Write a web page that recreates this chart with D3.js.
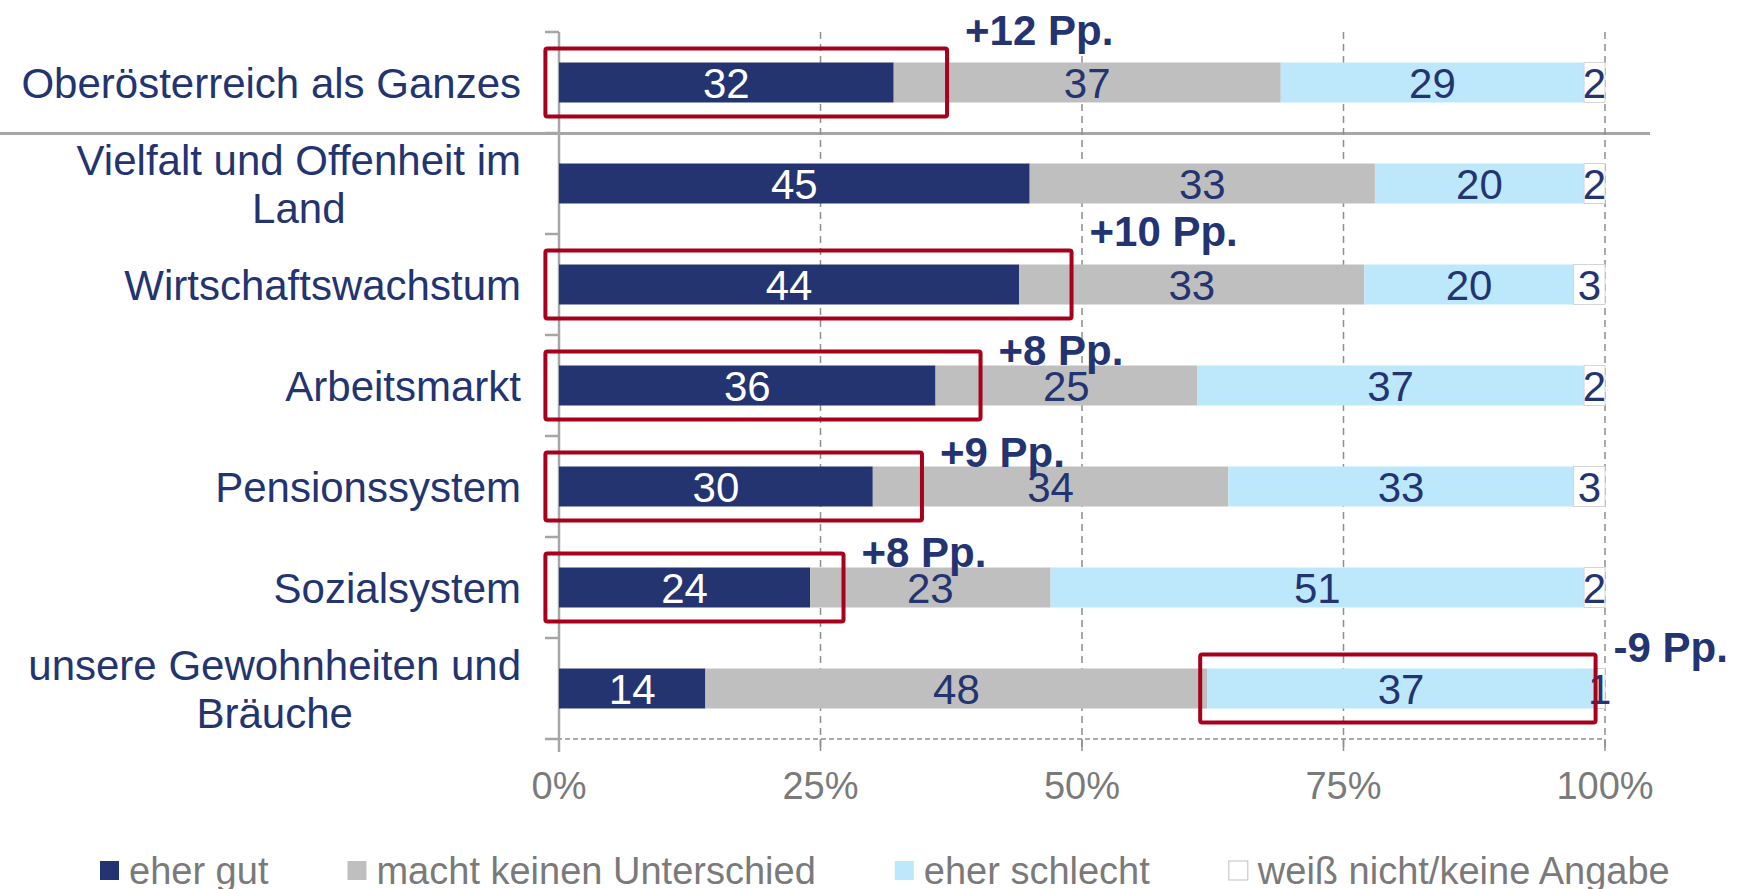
<!DOCTYPE html>
<html>
<head>
<meta charset="utf-8">
<script src="https://cdn.jsdelivr.net/npm/d3@7"></script>
<style>
  html, body { margin: 0; padding: 0; background: #ffffff; }
  svg { display: block; font-family: "Liberation Sans", Arial, Helvetica, sans-serif; }
</style>
</head>
<body>
<svg id="chart" width="1740" height="889"></svg>
<script>
// ---------------- DATA ----------------
const categories = [
  "Oberösterreich als Ganzes",
  "Vielfalt und Offenheit im\nLand",
  "Wirtschaftswachstum",
  "Arbeitsmarkt",
  "Pensionssystem",
  "Sozialsystem",
  "unsere Gewohnheiten und\nBräuche"
];
const seriesNames = ["eher gut", "macht keinen Unterschied", "eher schlecht", "weiß nicht/keine Angabe"];
const eherGut        = [32, 45, 44, 36, 30, 24, 14];
const keinUnterschied = [37, 33, 33, 25, 34, 23, 48];
const eherSchlecht   = [29, 20, 20, 37, 33, 51, 37];
const weissNicht     = [2, 2, 3, 2, 3, 2, 1];
const tickValues = [0, 25, 50, 75, 100];
const tickLabels = ["0%", "25%", "50%", "75%", "100%"];

// annotation boxes (row index, label, range in % of x axis)
const annotRows   = [0, 2, 3, 4, 5, 6];
const annotLabels = ["+12 Pp.", "+10 Pp.", "+8 Pp.", "+9 Pp.", "+8 Pp.", "-9 Pp."];
const annotFrom   = [-1.3, -1.3, -1.3, -1.3, -1.3, 61.3];
const annotTo     = [37.1, 49.0, 40.3, 34.7, 27.2, 99.1];

// ---------------- STYLE / LAYOUT ----------------
const colors = ["#233471", "#bfbfbf", "#bde8fb", "#ffffff"];
const navy = "#233471";
const red = "#a6001c";
const axisGray = "#a6a6a6";
const gridGray = "#8f8f8f";
const textGray = "#7a7a7a";
const annotDy = [-53, -54, -36, -35, -36, -42]; // label offset from bar centre

const svg = d3.select("#chart");
const x = d3.scaleLinear().domain([0, 100]).range([559, 1605]);
const y = d3.scaleBand().domain(categories).range([32, 739]).padding(0);
const barH = y.bandwidth() * 0.396;
const yc = c => y(c) + y.bandwidth() / 2;

const series = [eherGut, keinUnterschied, eherSchlecht, weissNicht];
const rows = categories.map((c, i) => {
  let acc = 0;
  return series.map((s, k) => {
    const seg = { cat: c, k, v: s[i], x0: acc, x1: acc + s[i] };
    acc += s[i];
    return seg;
  });
});

// separator line under the first row
svg.append("line")
  .attr("x1", 0).attr("x2", 1650)
  .attr("y1", y(categories[1]) + 0.5).attr("y2", y(categories[1]) + 0.5)
  .attr("stroke", axisGray).attr("stroke-width", 3);

// vertical gridlines (dashed)
svg.append("g").selectAll("line")
  .data(tickValues.filter(t => t > 0))
  .join("line")
  .attr("x1", d => x(d)).attr("x2", d => x(d))
  .attr("y1", 32).attr("y2", 750)
  .attr("stroke", gridGray).attr("stroke-width", 1.5)
  .attr("stroke-dasharray", "7,5");

// bottom axis (dashed) with ticks
svg.append("line")
  .attr("x1", 549).attr("x2", x(100))
  .attr("y1", 739).attr("y2", 739)
  .attr("stroke", gridGray).attr("stroke-width", 1.5)
  .attr("stroke-dasharray", "5,3");
svg.append("g").selectAll("line")
  .data(tickValues)
  .join("line")
  .attr("x1", d => x(d)).attr("x2", d => x(d))
  .attr("y1", 739).attr("y2", 751)
  .attr("stroke", gridGray).attr("stroke-width", 1.5);

svg.append("g").selectAll("text")
  .data(tickValues)
  .join("text")
  .attr("x", d => x(d)).attr("y", 799)
  .attr("text-anchor", "middle")
  .attr("font-size", 38)
  .attr("fill", textGray)
  .text((d, i) => tickLabels[i]);

// category axis
svg.append("line")
  .attr("x1", x(0)).attr("x2", x(0))
  .attr("y1", 32).attr("y2", 752)
  .attr("stroke", axisGray).attr("stroke-width", 2.5);
const boundaries = categories.map(c => y(c)).concat([739]);
svg.append("g").selectAll("line")
  .data(boundaries)
  .join("line")
  .attr("x1", x(0) - 14).attr("x2", x(0))
  .attr("y1", d => d).attr("y2", d => d)
  .attr("stroke", axisGray).attr("stroke-width", 2.5);

// bars
const barG = svg.append("g");
rows.forEach(r => {
  barG.selectAll(null)
    .data(r)
    .join("rect")
    .attr("x", d => x(d.x0))
    .attr("width", d => x(d.x1) - x(d.x0))
    .attr("y", d => yc(d.cat) - barH / 2)
    .attr("height", barH)
    .attr("fill", d => colors[d.k])
    .attr("stroke", d => d.k === 3 ? "#d4d4d4" : "none")
    .attr("stroke-width", 1);
});

// bar labels
rows.forEach(r => {
  barG.selectAll(null)
    .data(r)
    .join("text")
    .attr("x", d => x((d.x0 + d.x1) / 2))
    .attr("y", d => yc(d.cat) + 15)
    .attr("text-anchor", "middle")
    .attr("font-size", 42)
    .attr("fill", d => d.k === 0 ? "#ffffff" : navy)
    .text(d => d.v);
});

// category labels
const labelRight = 521;
const catG = svg.append("g");
categories.forEach(c => {
  const lines = c.split("\n");
  const t = catG.append("text")
    .attr("font-size", 42)
    .attr("fill", navy);
  if (lines.length === 1) {
    t.attr("x", labelRight).attr("y", yc(c) + 15)
     .attr("text-anchor", "end").text(c);
  } else {
    const lh = 48;
    const y0 = yc(c) - (lines.length - 1) * lh / 2 + 15;
    const tspans = lines.map((l, i) => t.append("tspan")
      .attr("y", y0 + i * lh).text(l));
    const maxW = d3.max(tspans, s => s.node().getComputedTextLength());
    const cx = labelRight - maxW / 2;
    t.attr("text-anchor", "middle");
    tspans.forEach(s => s.attr("x", cx));
  }
});

// annotation boxes
const annG = svg.append("g");
annotRows.forEach((ri, i) => {
  const c = categories[ri];
  annG.append("rect")
    .attr("x", x(annotFrom[i]))
    .attr("width", x(annotTo[i]) - x(annotFrom[i]))
    .attr("y", yc(c) - 34)
    .attr("height", 68)
    .attr("rx", 2)
    .attr("fill", "none")
    .attr("stroke", red)
    .attr("stroke-width", 4);
  annG.append("text")
    .attr("x", x(annotTo[i]) + 18)
    .attr("y", yc(c) + annotDy[i] + 15)
    .attr("font-size", 42)
    .attr("font-weight", "bold")
    .attr("fill", navy)
    .text(annotLabels[i]);
});

// legend
const legG = svg.append("g");
let lx = 100;
seriesNames.forEach((n, k) => {
  legG.append("rect")
    .attr("x", lx).attr("y", 861)
    .attr("width", 19).attr("height", 19)
    .attr("fill", colors[k])
    .attr("stroke", k === 3 ? "#bfbfbf" : "none")
    .attr("stroke-width", 1);
  const t = legG.append("text")
    .attr("x", lx + 29).attr("y", 884)
    .attr("font-size", 38)
    .attr("fill", textGray)
    .text(n);
  lx = lx + 29 + t.node().getComputedTextLength() + 79;
});
</script>
</body>
</html>
